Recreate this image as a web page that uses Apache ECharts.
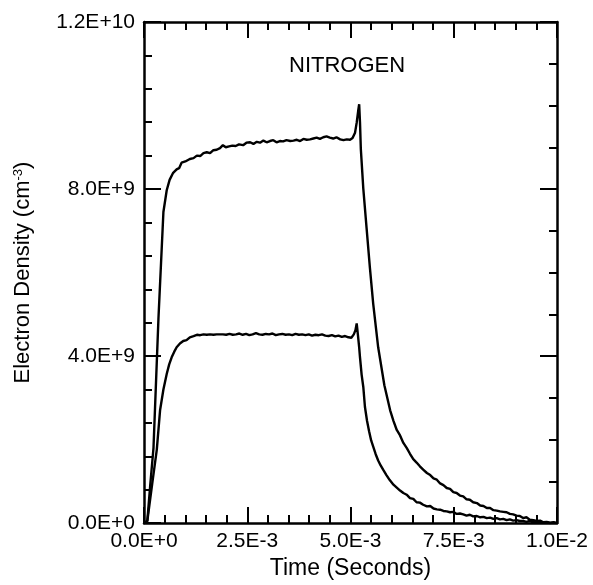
<!DOCTYPE html>
<html>
<head>
<meta charset="utf-8">
<script src="https://cdn.jsdelivr.net/npm/echarts@6/dist/echarts.min.js"></script>
<style>
html,body{margin:0;padding:0;background:#fff;}
#chart{width:593px;height:585px;}
</style>
</head>
<body>
<div id="chart"></div>
<script>
// Upper curve: time (s) and electron density (cm^-3)
var upperTime = [
  0, 0.08e-3, 0.15e-3, 0.23e-3, 0.35e-3, 0.47e-3, 0.55e-3, 0.62e-3, 0.70e-3, 0.79e-3,
  0.85e-3, 0.91e-3, 1.00e-3, 1.11e-3, 1.20e-3, 1.28e-3, 1.36e-3, 1.44e-3, 1.52e-3, 1.60e-3,
  1.68e-3, 1.76e-3, 1.84e-3, 1.91e-3, 1.98e-3, 2.06e-3, 2.14e-3, 2.22e-3, 2.30e-3, 2.40e-3,
  2.48e-3, 2.57e-3, 2.65e-3, 2.73e-3, 2.81e-3, 2.89e-3, 2.97e-3, 3.05e-3, 3.13e-3, 3.21e-3,
  3.29e-3, 3.37e-3, 3.45e-3, 3.54e-3, 3.62e-3, 3.70e-3, 3.78e-3, 3.86e-3, 3.94e-3, 4.02e-3,
  4.10e-3, 4.18e-3, 4.26e-3, 4.34e-3, 4.42e-3, 4.50e-3, 4.58e-3, 4.66e-3, 4.75e-3, 4.83e-3,
  4.91e-3, 4.99e-3, 5.05e-3, 5.11e-3, 5.15e-3, 5.19e-3, 5.21e-3, 5.23e-3, 5.25e-3, 5.31e-3,
  5.39e-3, 5.47e-3, 5.55e-3, 5.67e-3, 5.82e-3, 5.96e-3, 6.04e-3, 6.12e-3, 6.20e-3, 6.28e-3,
  6.36e-3, 6.44e-3, 6.52e-3, 6.60e-3, 6.68e-3, 6.76e-3, 6.85e-3, 6.93e-3, 7.01e-3, 7.09e-3,
  7.17e-3, 7.25e-3, 7.33e-3, 7.41e-3, 7.49e-3, 7.57e-3, 7.65e-3, 7.73e-3, 7.81e-3, 7.89e-3,
  7.97e-3, 8.06e-3, 8.14e-3, 8.22e-3, 8.30e-3, 8.38e-3, 8.46e-3, 8.54e-3, 8.62e-3, 8.70e-3,
  8.78e-3, 8.86e-3, 8.94e-3, 9.02e-3, 9.10e-3, 9.18e-3, 9.26e-3, 9.34e-3, 9.43e-3, 9.51e-3,
  9.59e-3, 9.67e-3, 9.75e-3, 9.83e-3, 9.92e-3, 10.0e-3
];
var upperDensity = [
  0, 0.05e9, 0.90e9, 1.80e9, 4.90e9, 7.45e9, 7.97e9, 8.22e9, 8.38e9, 8.47e9,
  8.50e9, 8.63e9, 8.66e9, 8.72e9, 8.74e9, 8.80e9, 8.79e9, 8.86e9, 8.88e9, 8.86e9,
  8.93e9, 8.94e9, 8.98e9, 9.05e9, 9.00e9, 9.02e9, 9.04e9, 9.03e9, 9.07e9, 9.05e9,
  9.11e9, 9.12e9, 9.08e9, 9.13e9, 9.11e9, 9.16e9, 9.12e9, 9.15e9, 9.17e9, 9.12e9,
  9.15e9, 9.14e9, 9.17e9, 9.15e9, 9.16e9, 9.18e9, 9.15e9, 9.20e9, 9.18e9, 9.19e9,
  9.21e9, 9.23e9, 9.20e9, 9.24e9, 9.26e9, 9.23e9, 9.21e9, 9.24e9, 9.19e9, 9.17e9,
  9.19e9, 9.18e9, 9.22e9, 9.35e9, 9.59e9, 9.90e9, 10.03e9, 9.60e9, 8.96e9, 8.01e9,
  7.06e9, 6.11e9, 5.25e9, 4.21e9, 3.30e9, 2.70e9, 2.45e9, 2.23e9, 2.10e9, 1.92e9,
  1.80e9, 1.66e9, 1.53e9, 1.45e9, 1.36e9, 1.28e9, 1.20e9, 1.15e9, 1.07e9, 1.04e9,
  0.95e9, 0.91e9, 0.84e9, 0.82e9, 0.74e9, 0.72e9, 0.66e9, 0.64e9, 0.57e9, 0.56e9,
  0.50e9, 0.48e9, 0.42e9, 0.41e9, 0.36e9, 0.36e9, 0.31e9, 0.30e9, 0.28e9, 0.27e9,
  0.26e9, 0.22e9, 0.21e9, 0.18e9, 0.17e9, 0.12e9, 0.14e9, 0.08e9, 0.07e9, 0.05e9,
  0.06e9, 0.02e9, 0.03e9, 0.01e9, 0.02e9, 0
];

// Lower curve
var lowerTime = [
  0, 0.08e-3, 0.20e-3, 0.31e-3, 0.39e-3, 0.47e-3, 0.55e-3, 0.61e-3, 0.67e-3, 0.73e-3,
  0.79e-3, 0.87e-3, 0.95e-3, 1.03e-3, 1.11e-3, 1.20e-3, 1.28e-3, 1.36e-3, 1.44e-3, 1.52e-3,
  1.60e-3, 1.68e-3, 1.76e-3, 1.84e-3, 1.91e-3, 1.99e-3, 2.07e-3, 2.15e-3, 2.23e-3, 2.31e-3,
  2.39e-3, 2.47e-3, 2.55e-3, 2.63e-3, 2.71e-3, 2.79e-3, 2.87e-3, 2.95e-3, 3.03e-3, 3.11e-3,
  3.19e-3, 3.27e-3, 3.35e-3, 3.43e-3, 3.51e-3, 3.59e-3, 3.67e-3, 3.75e-3, 3.83e-3, 3.91e-3,
  3.99e-3, 4.07e-3, 4.15e-3, 4.23e-3, 4.31e-3, 4.39e-3, 4.47e-3, 4.55e-3, 4.63e-3, 4.71e-3,
  4.79e-3, 4.87e-3, 4.95e-3, 5.02e-3, 5.08e-3, 5.12e-3, 5.15e-3, 5.18e-3, 5.21e-3, 5.23e-3,
  5.27e-3, 5.31e-3, 5.35e-3, 5.40e-3, 5.45e-3, 5.50e-3, 5.55e-3, 5.61e-3, 5.67e-3, 5.73e-3,
  5.79e-3, 5.87e-3, 5.95e-3, 6.04e-3, 6.12e-3, 6.20e-3, 6.28e-3, 6.36e-3, 6.44e-3, 6.52e-3,
  6.60e-3, 6.68e-3, 6.76e-3, 6.85e-3, 6.93e-3, 7.01e-3, 7.09e-3, 7.17e-3, 7.25e-3, 7.33e-3,
  7.41e-3, 7.49e-3, 7.57e-3, 7.65e-3, 7.73e-3, 7.81e-3, 7.89e-3, 7.97e-3, 8.06e-3, 8.14e-3,
  8.22e-3, 8.30e-3, 8.38e-3, 8.46e-3, 8.54e-3, 8.62e-3, 8.70e-3, 8.78e-3, 8.86e-3, 8.94e-3,
  9.02e-3, 9.10e-3, 9.18e-3, 9.26e-3, 9.34e-3, 9.43e-3, 9.51e-3, 9.59e-3, 9.67e-3, 9.75e-3,
  9.83e-3, 9.92e-3, 10.0e-3
];
var lowerDensity = [
  0, 0.05e9, 0.95e9, 1.76e9, 2.71e9, 3.20e9, 3.57e9, 3.80e9, 3.97e9, 4.10e9,
  4.21e9, 4.30e9, 4.36e9, 4.38e9, 4.45e9, 4.48e9, 4.51e9, 4.50e9, 4.52e9, 4.51e9,
  4.52e9, 4.51e9, 4.52e9, 4.52e9, 4.52e9, 4.51e9, 4.53e9, 4.51e9, 4.52e9, 4.54e9,
  4.51e9, 4.53e9, 4.50e9, 4.52e9, 4.55e9, 4.52e9, 4.51e9, 4.53e9, 4.52e9, 4.54e9,
  4.50e9, 4.52e9, 4.53e9, 4.51e9, 4.52e9, 4.50e9, 4.53e9, 4.51e9, 4.52e9, 4.50e9,
  4.52e9, 4.49e9, 4.51e9, 4.50e9, 4.52e9, 4.49e9, 4.48e9, 4.50e9, 4.47e9, 4.49e9,
  4.46e9, 4.48e9, 4.45e9, 4.44e9, 4.52e9, 4.62e9, 4.78e9, 4.50e9, 4.21e9, 3.97e9,
  3.55e9, 3.26e9, 2.78e9, 2.45e9, 2.20e9, 1.98e9, 1.83e9, 1.65e9, 1.50e9, 1.38e9,
  1.28e9, 1.15e9, 1.03e9, 0.92e9, 0.85e9, 0.78e9, 0.72e9, 0.68e9, 0.60e9, 0.58e9,
  0.50e9, 0.49e9, 0.44e9, 0.40e9, 0.41e9, 0.35e9, 0.33e9, 0.32e9, 0.29e9, 0.28e9,
  0.26e9, 0.27e9, 0.22e9, 0.23e9, 0.21e9, 0.18e9, 0.20e9, 0.16e9, 0.17e9, 0.14e9,
  0.15e9, 0.12e9, 0.13e9, 0.10e9, 0.12e9, 0.09e9, 0.10e9, 0.07e9, 0.09e9, 0.06e9,
  0.07e9, 0.05e9, 0.05e9, 0.03e9, 0.05e9, 0.02e9, 0.03e9, 0.01e9, 0.01e9, 0.02e9,
  0, 0.01e9, 0
];

var xTickLabels = ['0.0E+0', '2.5E-3', '5.0E-3', '7.5E-3', '1.0E-2'];
var yTickLabels = ['0.0E+0', '4.0E+9', '8.0E+9', '1.2E+10'];

function pairs(xs, ys) {
  var out = [];
  for (var i = 0; i < xs.length; i++) out.push([xs[i], ys[i]]);
  return out;
}

var FONT = 'Liberation Sans, Arial, sans-serif';
var axisLineStyle = { color: '#000', width: 2.5 };
var tickStyle = { color: '#000', width: 2 };

function xAxisCfg(pos, showLabel) {
  return {
    type: 'value', position: pos, min: 0, max: 0.01, interval: 0.0025,
    axisLine: { show: true, onZero: false, lineStyle: axisLineStyle },
    axisTick: { show: true, inside: true, length: 16, lineStyle: tickStyle },
    minorTick: { show: true, splitNumber: 5, length: 8, lineStyle: tickStyle },
    splitLine: { show: false }, minorSplitLine: { show: false },
    axisLabel: {
      show: showLabel, color: '#000', fontSize: 21, fontFamily: FONT, margin: 8,
      formatter: function (v) { return xTickLabels[Math.round(v / 0.0025)]; }
    }
  };
}
function yAxisCfg(pos, showLabel, minorSplit) {
  return {
    type: 'value', position: pos, min: 0, max: 1.2e10, interval: 4e9,
    axisLine: { show: true, onZero: false, lineStyle: axisLineStyle },
    axisTick: { show: true, inside: true, length: 17, lineStyle: tickStyle },
    minorTick: { show: true, splitNumber: minorSplit, length: 8, lineStyle: tickStyle },
    splitLine: { show: false }, minorSplitLine: { show: false },
    axisLabel: {
      show: showLabel, color: '#000', fontSize: 21, fontFamily: FONT, margin: 9,
      formatter: function (v) { return yTickLabels[Math.round(v / 4e9)]; }
    }
  };
}

var xBottom = xAxisCfg('bottom', true);
xBottom.name = 'Time (Seconds)';
xBottom.nameLocation = 'middle';
xBottom.nameGap = 31;
xBottom.nameTextStyle = { color: '#000', fontSize: 23, fontFamily: FONT };

var yLeft = yAxisCfg('left', true, 5);
yLeft.name = 'Electron Density (cm{sup|-3})';
yLeft.nameLocation = 'middle';
yLeft.nameGap = 110;
yLeft.nameTextStyle = {
  color: '#000', fontSize: 22, fontFamily: FONT,
  rich: { sup: { fontSize: 13, fontFamily: FONT, color: '#000', verticalAlign: 'top', lineHeight: 12 } }
};

var chart = echarts.init(document.getElementById('chart'), null, { renderer: 'canvas' });
chart.setOption({
  animation: false,
  backgroundColor: '#fff',
  grid: { left: 144, right: 36, top: 22, bottom: 58, containLabel: false },
  xAxis: [xBottom, xAxisCfg('top', false)],
  yAxis: [yLeft, yAxisCfg('right', false, 4)],
  graphic: [{
    type: 'text', left: 289, top: 55,
    style: { text: 'NITROGEN', fill: '#000', font: '22px Liberation Sans, Arial, sans-serif' }
  }],
  series: [
    { type: 'line', xAxisIndex: 0, yAxisIndex: 0, data: pairs(upperTime, upperDensity),
      showSymbol: false, lineStyle: { color: '#000', width: 2.4 } },
    { type: 'line', xAxisIndex: 0, yAxisIndex: 0, data: pairs(lowerTime, lowerDensity),
      showSymbol: false, lineStyle: { color: '#000', width: 2.4 } }
  ]
});
</script>
</body>
</html>
